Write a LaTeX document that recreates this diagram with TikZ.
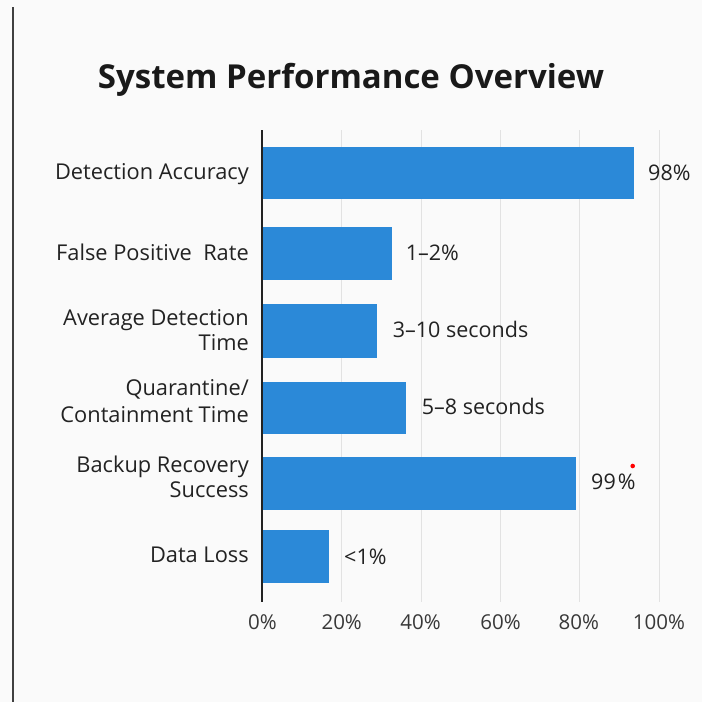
\documentclass[tikz,border=0pt]{standalone}
\usepackage{fontspec}
\setmainfont{Open Sans}
\definecolor{bgc}{RGB}{250,250,250}
\definecolor{barblue}{RGB}{43,137,216}
\definecolor{txt}{RGB}{34,34,34}
\definecolor{gridc}{RGB}{226,226,226}
\tikzset{
  cat/.style={anchor=base east, inner sep=0pt, text=txt, font=\fontsize{21.8}{26}\selectfont},
  val/.style={anchor=base west, inner sep=0pt, text=txt, font=\fontsize{21.5}{26}\selectfont},
  tick/.style={anchor=base, inner sep=0pt, text=txt!90, font=\fontsize{20.5}{24}\selectfont},
  bar/.style={fill=barblue},
  gridline/.style={draw=gridc, line width=0.9pt},
}
\begin{document}
\begin{tikzpicture}[x=1pt,y=-1pt]
\fill[bgc] (0,0) rectangle (702,702);
\useasboundingbox (0,0) rectangle (702,702);
\draw[line width=1.6pt, black!75] (13,7) -- (13,702);
% title
\node[anchor=base, inner sep=0pt, text=black!90, font=\fontsize{33}{40}\bfseries\selectfont] (title) at (351,88) {System Performance Overview};
% grid
\foreach \gx in {341.7,421.7,500.7,579.3,659.3}{
  \draw[gridline] (\gx,130) -- (\gx,602);
}
% bars
\fill[bar] (262,146.7) rectangle (634.3,199.3);
\fill[bar] (262,227.3) rectangle (392.3,280);
\fill[bar] (262,304) rectangle (377.3,357.7);
\fill[bar] (262,382) rectangle (406,434);
\fill[bar] (262,457.3) rectangle (576,510);
\fill[bar] (262,530.3) rectangle (329.3,582.7);
% axis
\draw[line width=1.8pt, txt] (262,130) -- (262,602);
% category labels
\node[cat] (c1) at (249,179.8) {Detection Accuracy};
\node[cat] (c2) at (249,260.3) {False Positive\ \ Rate};
\node[cat] (c3a) at (249,325.8) {Average Detection};
\node[cat] (c3b) at (249,350.8) {Time};
\node[cat] (c4a) at (249,395.8) {Quarantine/};
\node[cat] (c4b) at (249,422.3) {Containment Time};
\node[cat] (c5a) at (249,472.8) {Backup Recovery};
\node[cat] (c5b) at (249,497.8) {Success};
\node[cat] (c6) at (249,562.8) {Data Loss};
% value labels
\node[val] (v1) at (648,180.7) {98\%};
\node[val] (v2) at (405.7,260.7) {1–2\%};
\node[val] (v3) at (392.7,337.7) {3–10 seconds};
\node[val] (v4) at (421.7,414.2) {5–8 seconds};
\node[val] (v5) at (591,489.2) {99\kern2pt\%};
\node[val] (v6) at (344,564.2) {<1\%};
\fill[red] (632.7,466) circle (2.3pt);
% tick labels
\node[tick] (t0) at (262.5,629.3) {0\%};
\node[tick] (t20) at (341.7,629.3) {20\%};
\node[tick] (t40) at (420.5,629.3) {40\%};
\node[tick] (t60) at (500.5,629.3) {60\%};
\node[tick] (t80) at (578.8,629.3) {80\%};
\node[tick] (t100) at (659,629.3) {100\%};
\end{tikzpicture}
\end{document}
